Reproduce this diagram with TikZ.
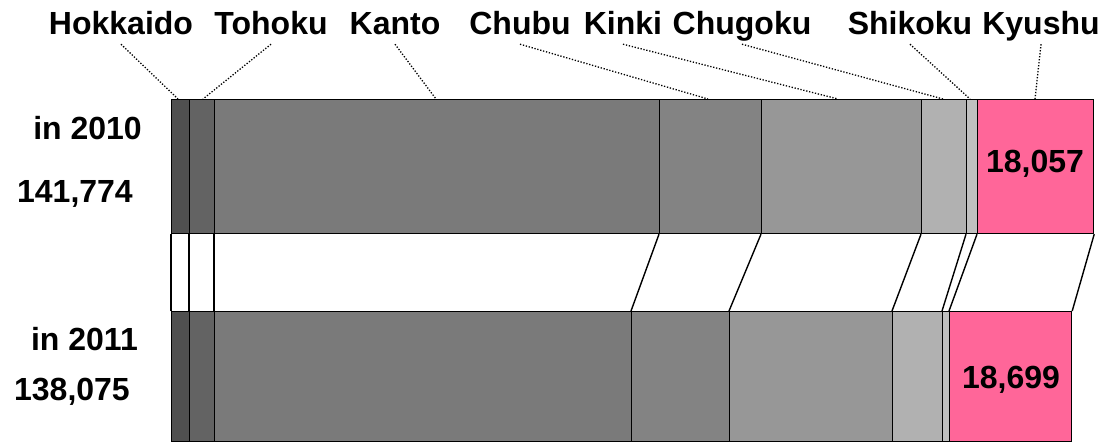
\documentclass[tikz,border=0pt]{standalone}
\usepackage{fontspec}
\setmainfont{Liberation Sans}
\usetikzlibrary{positioning}
\definecolor{cHok}{HTML}{505050}
\definecolor{cToh}{HTML}{636363}
\definecolor{cKan}{HTML}{7A7A7A}
\definecolor{cChb}{HTML}{838383}
\definecolor{cKin}{HTML}{979797}
\definecolor{cChg}{HTML}{B1B1B1}
\definecolor{cShi}{HTML}{C0C0C0}
\definecolor{cKyu}{HTML}{FF6699}
\tikzstyle{seg} = [rectangle, draw, line width=1.2pt, inner sep=0pt, anchor=north west]
\tikzstyle{region} = [font=\fontsize{32}{38}\selectfont\bfseries, inner sep=3pt, text height=23pt, text depth=6pt, anchor=base]
\tikzstyle{yearlab} = [font=\fontsize{32}{38}\selectfont\bfseries, inner sep=0pt, anchor=base east]
\tikzstyle{num} = [font=\fontsize{32}{38}\selectfont\bfseries, inner sep=0pt, anchor=base]
\tikzstyle{lead} = [draw, line width=1.3pt, dash pattern=on 1.3pt off 1.7pt]
\tikzstyle{link} = [draw, line width=1.4pt]

\begin{document}
\begin{tikzpicture}[x=1pt,y={(0pt,-1pt)}]
  \useasboundingbox[fill=white] (0,0) rectangle (1102,446);

  % bars, 2010 on top and 2011 below
  \foreach \n/\a/\b/\c in {hok/171/189/cHok, toh/189/214/cToh, kan/214/659/cKan, chb/659/761/cChb,
      kin/761/921/cKin, chg/921/966/cChg, shi/966/977/cShi, kyu/977/1093/cKyu}
  {
    \pgfmathsetmacro\w{\b-\a}
    \node [seg, fill=\c, minimum width=\w pt, minimum height=134pt] (t\n) at (\a,99) {};
  }
  \foreach \n/\a/\b/\c in {hok/171/189/cHok, toh/189/214/cToh, kan/214/631/cKan, chb/631/729/cChb,
      kin/729/892/cKin, chg/892/942/cChg, shi/942/949/cShi, kyu/949/1071/cKyu}
  {
    \pgfmathsetmacro\w{\b-\a}
    \node [seg, fill=\c, minimum width=\w pt, minimum height=130pt] (b\n) at (\a,311) {};
  }

  % links between the bars
  \foreach \n in {hok,toh,kan,chb,kin,chg,shi,kyu}
    \path [link] (t\n.south west) -- (b\n.north west);
  \path [link] (tkyu.south east) -- (bkyu.north east);

  % region names
  \node [region] (lhok) at (121,35) {Hokkaido};
  \node [region] (ltoh) at (271,35) {Tohoku};
  \node [region] (lkan) at (395,35) {Kanto};
  \node [region] (lchb) at (520,35) {Chubu};
  \node [region] (lkin) at (623,35) {Kinki};
  \node [region] (lchg) at (742,35) {Chugoku};
  \node [region] (lshi) at (910,35) {Shikoku};
  \node [region] (lkyu) at (1041,35) {Kyushu};

  \coordinate (phok) at (178,99);
  \coordinate (ptoh) at (203,99);
  \coordinate (pkan) at (436,99);
  \coordinate (pchb) at (708,99);
  \coordinate (pkin) at (838,99);
  \coordinate (pchg) at (943,99);
  \coordinate (pshi) at (970,99);
  \coordinate (pkyu) at (1035,99);
  \foreach \n in {hok,toh,kan,chb,kin,chg,shi,kyu}
    \path [lead] (l\n.south) -- (p\n);

  % years and totals
  \node [yearlab] (y2010) at (142,140) {in 2010};
  \node [yearlab] (s2010) at (133,203) {141,774};
  \node [yearlab] (y2011) at (138,350) {in 2011};
  \node [yearlab] (s2011) at (130,400) {138,075};

  \node [num] (k2010) at (1035,173) {18,057};
  \node [num] (k2011) at (1011,388) {18,699};
\end{tikzpicture}
\end{document}
